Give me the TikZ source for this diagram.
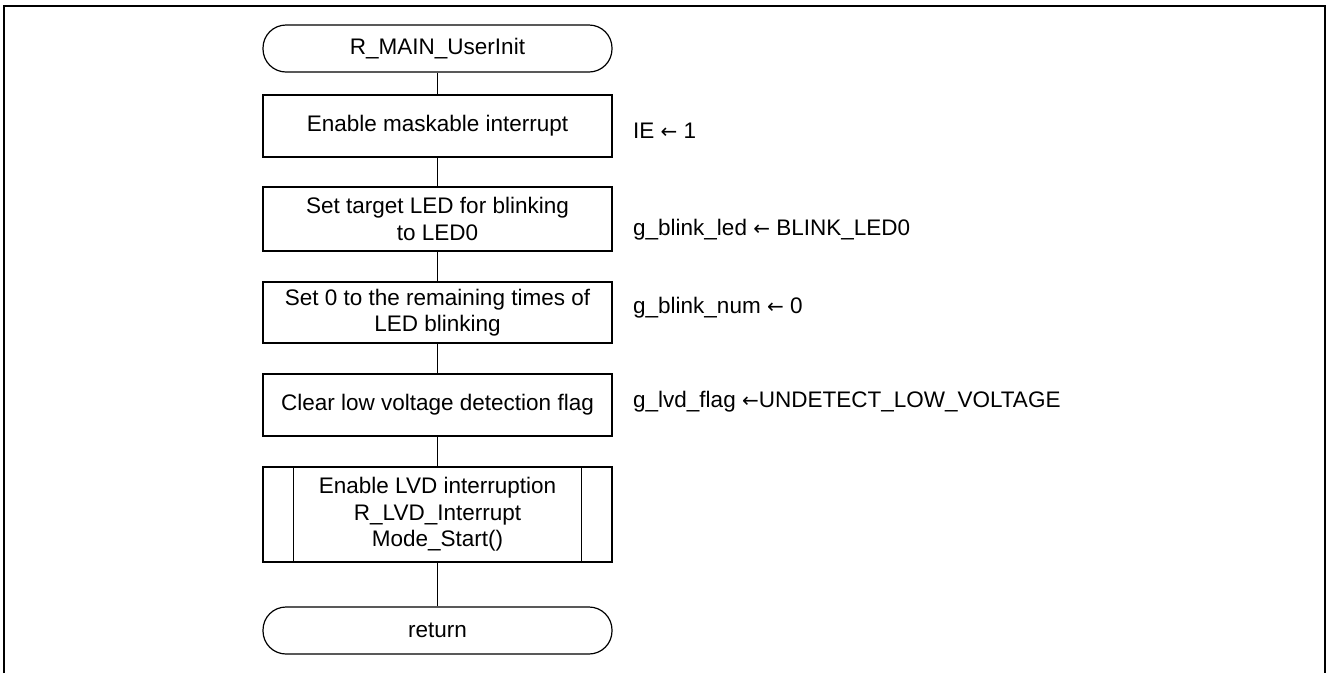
\documentclass[tikz,border=0pt]{standalone}
\usepackage{fontspec}
\setmainfont{Liberation Sans}
\newfontfamily\arrowfont{DejaVu Sans}
\newcommand{\larr}{{\arrowfont\fontsize{20}{24}\selectfont ←}}
\begin{document}
\begin{tikzpicture}[x=1pt,y=-1pt,
  every node/.style={font=\fontsize{22.5}{26.5}\selectfont, inner sep=0pt, align=center},
  box/.style={draw, line width=1.2pt, minimum width=349pt},
  term/.style={box, rounded corners=23pt, minimum height=47pt},
  note/.style={anchor=west},
  flow/.style={line width=1.2pt}]
\useasboundingbox (0,0) rectangle (1326,673);
\draw[line width=2pt] (4,673) -- (4,6) -- (1325,6) -- (1325,673);

\node[term] (start) at (437.5,48.5) {R\_MAIN\_UserInit};
\node[box, minimum height=62pt] (b1) at (437.5,126) {Enable maskable interrupt};
\node[box, minimum height=64pt] (b2) at (437.5,219) {Set target LED for blinking\\to LED0};
\node[box, minimum height=61pt] (b3) at (437.5,312.5) {Set 0 to the remaining times of\\LED blinking};
\node[box, minimum height=62pt] (b4) at (437.5,405) {Clear low voltage detection flag};
\node[box, minimum height=95pt] (b5) at (437.5,514.5) {Enable LVD interruption\\R\_LVD\_Interrupt\\Mode\_Start()};
\draw[flow] ([xshift=31pt]b5.north west) -- ([xshift=31pt]b5.south west);
\draw[flow] ([xshift=-31pt]b5.north east) -- ([xshift=-31pt]b5.south east);
\node[term] (ret) at (437.5,630.5) {return};

\draw[flow] (start) -- (b1);
\draw[flow] (b1) -- (b2);
\draw[flow] (b2) -- (b3);
\draw[flow] (b3) -- (b4);
\draw[flow] (b4) -- (b5);
\draw[flow] (b5) -- (ret);

\node[note] (n1) at (633,131) {IE \larr\ 1};
\node[note] (n2) at (633,230) {g\_blink\_led \larr\ BLINK\_LED0};
\node[note] (n3) at (633,308) {g\_blink\_num \larr\ 0};
\node[note] (n4) at (633,402) {g\_lvd\_flag \larr UNDETECT\_LOW\_VOLTAGE};
\end{tikzpicture}
\end{document}
